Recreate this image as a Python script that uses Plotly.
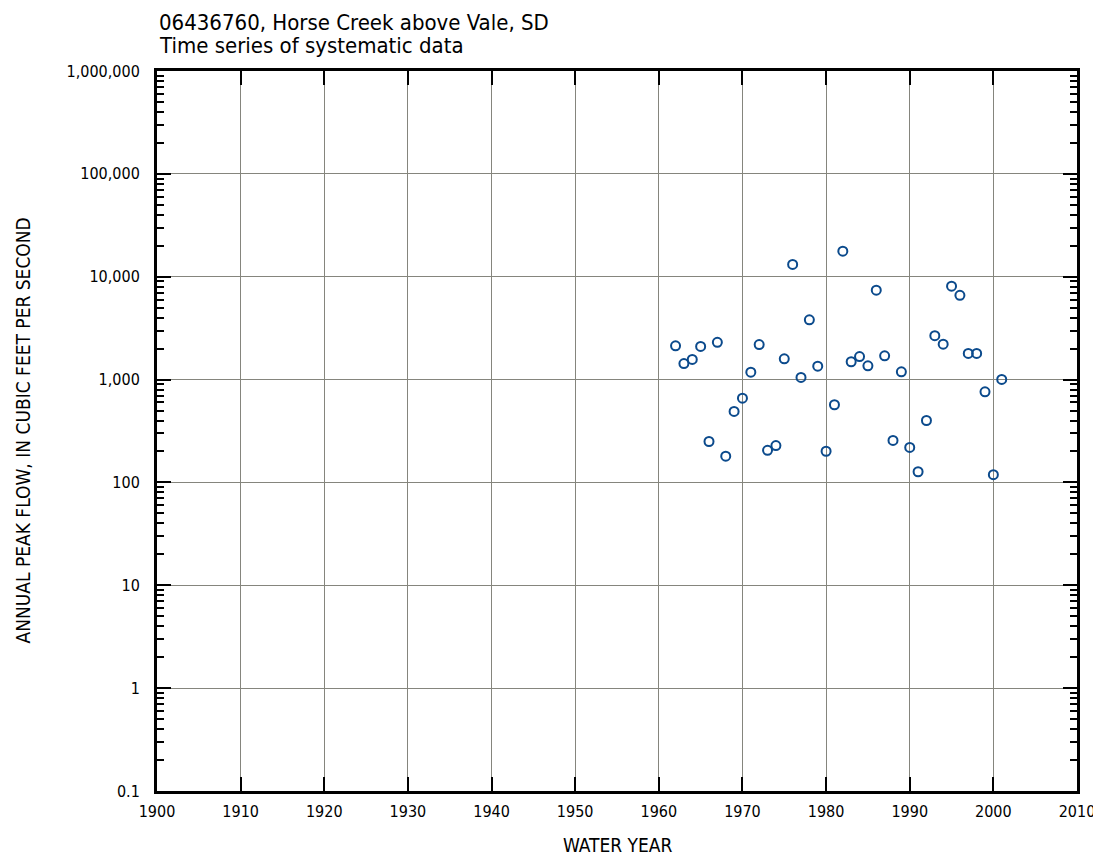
import plotly.graph_objects as go

years = list(range(1962, 2002))
peaks = [2130, 1430, 1570, 2100, 250, 2300, 180, 490, 660, 1180,
         2190, 205, 228, 1590, 13150, 1050, 3810, 1350, 201, 569,
         17700, 1490, 1675, 1360, 7400, 1700, 256, 1190, 219, 127,
         400, 2670, 2210, 8090, 6600, 1795, 1795, 760, 119, 1003]

ytick_vals = [0.1, 1, 10, 100, 1000, 10000, 100000, 1000000]
ytick_text = ["0.1", "1", "10", "100", "1,000", "10,000", "100,000", "1,000,000"]
xtick_vals = list(range(1900, 2011, 10))

title_line1 = "06436760, Horse Creek above Vale, SD"
title_line2 = "Time series of systematic data"

FONT = "DejaVu Sans Condensed, DejaVu Sans, sans-serif"

fig = go.Figure()
fig.add_trace(go.Scatter(
    x=years, y=peaks, mode="markers",
    marker=dict(symbol="circle-open", size=9, color="#0b4a8c",
                line=dict(width=2, color="#0b4a8c")),
    showlegend=False,
))

# page body has an ~8px margin; plot area should span x 157-1077, y 71-791
L, R, T, B = 149, 24, 63, 65
W, H = 1093, 848
PX0, PY0, PW, PH = 157, 71, 920, 720


def px_x(x):
    return (x - PX0) / PW


def px_y(y):
    return (PY0 + PH - y) / PH


fig.update_layout(
    width=W, height=H,
    margin=dict(l=L, r=R, t=T, b=B),
    paper_bgcolor="white", plot_bgcolor="white",
    font=dict(family=FONT, size=16, color="black"),
    xaxis=dict(
        range=[1900, 2010], tickmode="array", tickvals=xtick_vals,
        ticks="inside", ticklen=14, tickwidth=2, tickcolor="black",
        showline=True, linewidth=3, linecolor="black", mirror="allticks",
        showgrid=True, gridcolor="#85857d", gridwidth=1,
        zeroline=False, tickfont=dict(size=16), automargin=False,
        ticklabelstandoff=4,
    ),
    yaxis=dict(
        type="log", range=[-1, 6], tickmode="array",
        tickvals=ytick_vals, ticktext=ytick_text,
        ticks="inside", ticklen=14, tickwidth=2, tickcolor="black",
        showline=True, linewidth=3, linecolor="black", mirror="allticks",
        showgrid=True, gridcolor="#85857d", gridwidth=1,
        zeroline=False, tickfont=dict(size=16), ticklabelstandoff=11,
        automargin=False,
        minor=dict(ticks="inside", ticklen=7, tickwidth=1.5, tickcolor="black",
                   dtick="D1", showgrid=False),
    ),
    annotations=[
        dict(text=title_line1, xref="paper", yref="paper", x=0, y=px_y(22),
             xanchor="left", yanchor="middle", showarrow=False,
             font=dict(size=22)),
        dict(text=title_line2, xref="paper", yref="paper", x=0, y=px_y(46),
             xanchor="left", yanchor="middle", showarrow=False,
             font=dict(size=22)),
        dict(text="ANNUAL PEAK FLOW, IN CUBIC FEET PER SECOND",
             xref="paper", yref="paper", x=px_x(22), y=px_y(430.5),
             xanchor="center", yanchor="middle", textangle=-90,
             showarrow=False, font=dict(size=19)),
        dict(text="WATER YEAR", xref="paper", yref="paper", x=px_x(618),
             y=px_y(845), xanchor="center", yanchor="middle",
             showarrow=False, font=dict(size=19)),
    ],
)

fig.write_html("out.html")
